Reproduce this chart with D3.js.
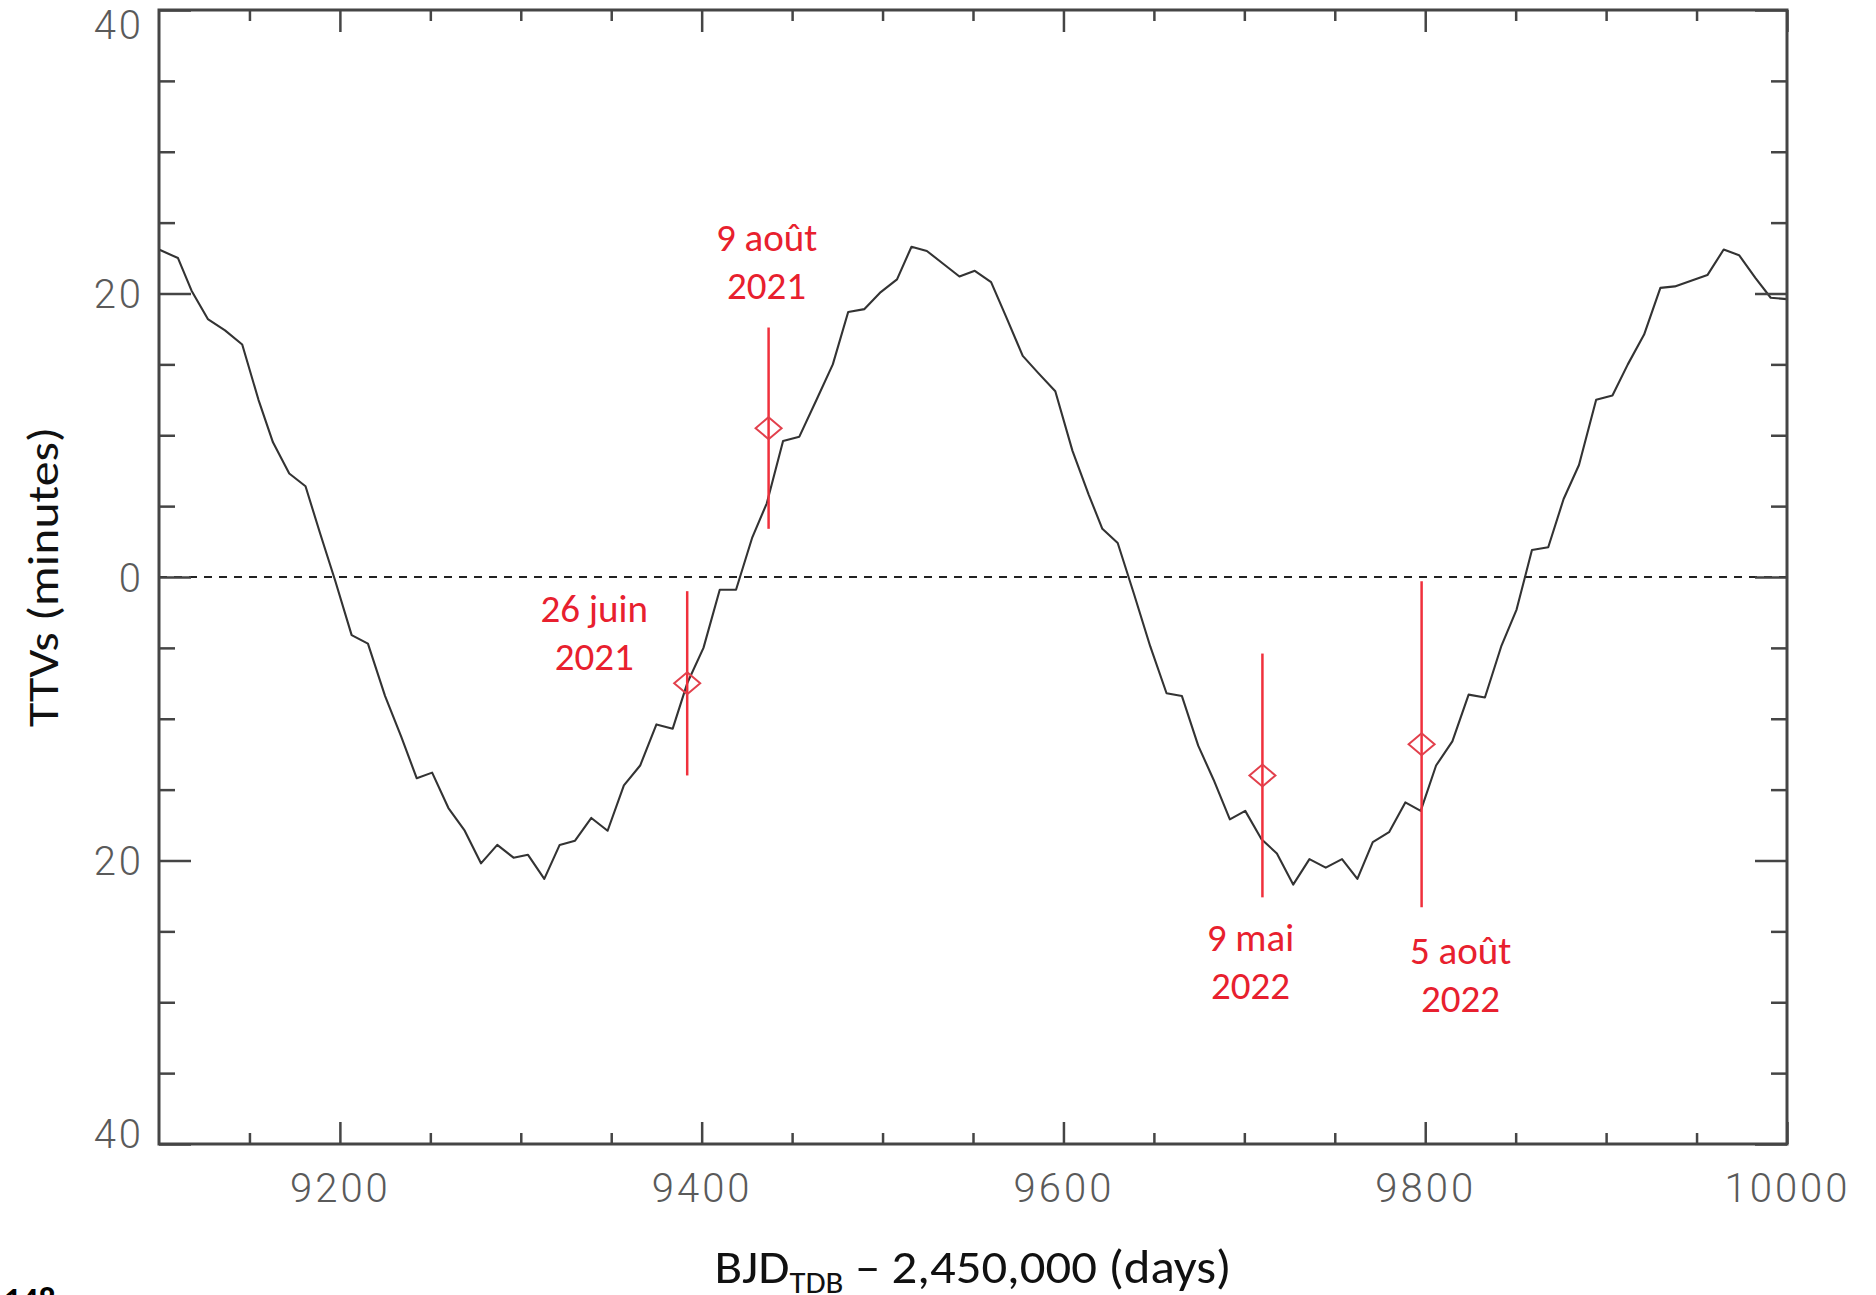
<!DOCTYPE html>
<html>
<head>
<meta charset="utf-8">
<script src="https://cdn.jsdelivr.net/npm/d3@7"></script>
<style>
  body { margin: 0; background: #fff; }
  svg { display: block; }
</style>
</head>
<body>
<svg id="chart"></svg>
<script>

// model TTV curve (days = BJD - 2450000, minutes)
const modelDays = [
  9100, 9110.5, 9118, 9127, 9136.5, 9146, 9155, 9163, 9172, 9181,
  9189, 9197.5, 9206.5, 9215.5, 9225, 9234, 9242.5, 9251, 9260, 9269,
  9278, 9287, 9296, 9304, 9313, 9321.5, 9330, 9339, 9348, 9357,
  9366, 9375, 9384, 9392, 9401, 9410, 9419, 9428, 9436, 9445,
  9454, 9463.5, 9472.5, 9481, 9490, 9499, 9508, 9516, 9524.5, 9533.5,
  9542.5, 9551, 9560, 9568.5, 9577.5, 9586, 9595.5, 9605, 9614, 9621.5,
  9630, 9639, 9648, 9657, 9665.5, 9674.5, 9683, 9692, 9700.5, 9709.5,
  9718, 9727, 9736, 9745, 9754, 9762.5, 9771, 9780, 9789, 9797.5,
  9806, 9815, 9824, 9833, 9842, 9850.5, 9859, 9868, 9876.5, 9885,
  9894.5, 9903.5, 9912, 9921, 9930, 9938, 9947, 9956, 9965, 9973.5,
  9982.5, 9991, 10000
]
const modelTTV = [
  23.1, 22.5, 20.2, 18.2, 17.4, 16.4, 12.5, 9.5, 7.3, 6.4,
  3.1, -0.3, -4.1, -4.7, -8.4, -11.3, -14.2, -13.8, -16.3, -17.9,
  -20.2, -18.9, -19.8, -19.6, -21.3, -18.9, -18.6, -17.0, -17.9, -14.7,
  -13.3, -10.4, -10.7, -7.5, -5.0, -0.9, -0.9, 2.8, 5.2, 9.6,
  9.9, 12.5, 15.0, 18.7, 18.9, 20.1, 21.0, 23.3, 23.0, 22.1,
  21.2, 21.6, 20.8, 18.3, 15.6, 14.4, 13.1, 8.9, 5.8, 3.4,
  2.4, -1.2, -4.9, -8.2, -8.4, -11.9, -14.3, -17.1, -16.5, -18.5,
  -19.5, -21.7, -19.9, -20.5, -19.9, -21.3, -18.7, -18.0, -15.9, -16.5,
  -13.3, -11.6, -8.3, -8.5, -4.9, -2.3, 1.9, 2.1, 5.5, 7.9,
  12.5, 12.8, 15.0, 17.1, 20.4, 20.5, 20.9, 21.3, 23.1, 22.7,
  21.1, 19.7, 19.6
]

// observed transits
const obsDates = [["26 juin", "2021"], ["9 août", "2021"], ["9 mai", "2022"], ["5 août", "2022"]]
const obsDays = [9392, 9437, 9710, 9798]
const obsTTV = [-7.5, 10.5, -14.0, -11.8]
const obsErr = [6.5, 7.1, 8.6, 11.5]

const xMajorTicks = [9200, 9400, 9600, 9800, 10000]
const yMajorTicks = [-40, -20, 0, 20, 40]

const width = 1876
const height = 1295
const plotLeft = 159, plotRight = 1787, plotTop = 10, plotBottom = 1144

const red = "#e8202e"
const frameColor = "#454545"

// where each date label sits relative to its diamond
const labelOffsets = [[-93, -61], [-2, -177], [-12, 176], [39, 220]]

const svg = d3.select('#chart')
    .attr('width', width)
    .attr('height', height)

const x = d3.scaleLinear().domain([9100, 10000]).range([plotLeft, plotRight])
const y = d3.scaleLinear().domain([-40, 40]).range([plotBottom, plotTop])

// zero line
svg.append('line')
    .attr('x1', x(9100))
    .attr('x2', x(10000))
    .attr('y1', y(0))
    .attr('y2', y(0))
    .attr('stroke', '#222')
    .attr('stroke-width', 2)
    .attr('stroke-dasharray', '8,7')

// model curve
const model = modelDays.map((d, i) => [d, modelTTV[i]])
svg.append('path')
    .datum(model)
    .attr('fill', 'none')
    .attr('stroke', '#333')
    .attr('stroke-width', 2.1)
    .attr('stroke-linejoin', 'round')
    .attr('d', d3.line().x(d => x(d[0])).y(d => y(d[1])))

// observations
const obs = obsDays.map((d, i) => ({day: d, ttv: obsTTV[i], err: obsErr[i], lines: obsDates[i], off: labelOffsets[i]}))

const obsG = svg.append('g')

obsG.selectAll('line')
    .data(obs)
    .enter().append('line')
    .attr('x1', d => x(d.day))
    .attr('x2', d => x(d.day))
    .attr('y1', d => y(d.ttv + d.err))
    .attr('y2', d => y(d.ttv - d.err))
    .attr('stroke', '#f0303c')
    .attr('stroke-width', 2.5)

obsG.selectAll('path')
    .data(obs)
    .enter().append('path')
    .attr('transform', d => `translate(${x(d.day)},${y(d.ttv)})`)
    .attr('d', 'M0,-11L13,0L0,11L-13,0Z')
    .attr('fill', 'none')
    .attr('stroke', '#e2404c')
    .attr('stroke-width', 2)

const labels = obsG.selectAll('text')
    .data(obs)
    .enter().append('text')
    .attr('text-anchor', 'middle')
    .attr('font-family', 'Calibri, Carlito, Lato, sans-serif')
    .attr('font-size', 39)
    .attr('fill', red)

labels.selectAll('tspan')
    .data(d => d.lines.map((t, k) => ({t: t, k: k, d: d})))
    .enter().append('tspan')
    .attr('x', e => x(e.d.day) + e.d.off[0])
    .attr('y', e => y(e.d.ttv) + e.d.off[1] + e.k * 48)
    .text(e => e.t)

// axes, ticks pointing inward
function styleAxis(g){
    g.select('.domain').remove()
    g.selectAll('.tick line').attr('stroke', frameColor).attr('stroke-width', 2.5)
    g.selectAll('text')
        .attr('font-family', 'Roboto, "DejaVu Sans", sans-serif')
        .attr('font-weight', 300)
        .attr('font-size', 40)
        .attr('letter-spacing', 3)
        .attr('fill', '#5a5a5a')
}

const xMinor = d3.range(9150, 10000, 50).filter(v => xMajorTicks.indexOf(v) < 0)
const yMinor = d3.range(-35, 40, 5).filter(v => yMajorTicks.indexOf(v) < 0)

// bottom
svg.append('g')
    .attr('transform', `translate(0,${plotBottom})`)
    .call(d3.axisBottom(x).tickValues(xMinor).tickSize(-11).tickSizeOuter(0).tickFormat(''))
    .call(styleAxis)
svg.append('g')
    .attr('transform', `translate(0,${plotBottom})`)
    .call(d3.axisBottom(x).tickValues(xMajorTicks).tickSize(-22).tickSizeOuter(0).tickPadding(30).tickFormat(d3.format('d')))
    .call(styleAxis)
    .call(g => g.selectAll('text').attr('y', 58).attr('dy', 0))

// top
svg.append('g')
    .attr('transform', `translate(0,${plotTop})`)
    .call(d3.axisTop(x).tickValues(xMinor).tickSize(-11).tickSizeOuter(0).tickFormat(''))
    .call(styleAxis)
svg.append('g')
    .attr('transform', `translate(0,${plotTop})`)
    .call(d3.axisTop(x).tickValues(xMajorTicks).tickSize(-22).tickSizeOuter(0).tickFormat(''))
    .call(styleAxis)

// left
svg.append('g')
    .attr('transform', `translate(${plotLeft},0)`)
    .call(d3.axisLeft(y).tickValues(yMinor).tickSize(-16).tickSizeOuter(0).tickFormat(''))
    .call(styleAxis)
svg.append('g')
    .attr('transform', `translate(${plotLeft},0)`)
    .call(d3.axisLeft(y).tickValues(yMajorTicks).tickSize(-32).tickSizeOuter(0).tickFormat(d => String(Math.abs(d))))
    .call(styleAxis)
    .call(g => g.selectAll('text')
        .attr('x', -15)
        .attr('dy', d => d === 40 ? '0.7em' : (d === -40 ? '0.08em' : '0.36em')))

// right
svg.append('g')
    .attr('transform', `translate(${plotRight},0)`)
    .call(d3.axisRight(y).tickValues(yMinor).tickSize(-16).tickSizeOuter(0).tickFormat(''))
    .call(styleAxis)
svg.append('g')
    .attr('transform', `translate(${plotRight},0)`)
    .call(d3.axisRight(y).tickValues(yMajorTicks).tickSize(-32).tickSizeOuter(0).tickFormat(''))
    .call(styleAxis)

// frame
svg.append('rect')
    .attr('x', plotLeft)
    .attr('y', plotTop)
    .attr('width', plotRight - plotLeft)
    .attr('height', plotBottom - plotTop)
    .attr('fill', 'none')
    .attr('stroke', frameColor)
    .attr('stroke-width', 3)

// axis titles
const xTitle = svg.append('text')
    .attr('x', 973)
    .attr('y', 1283)
    .attr('text-anchor', 'middle')
    .attr('font-family', 'Calibri, Carlito, Lato, sans-serif')
    .attr('font-size', 48)
    .attr('fill', '#111')
    .attr('textLength', 517)
    .attr('lengthAdjust', 'spacingAndGlyphs')
xTitle.append('tspan').text('BJD')
xTitle.append('tspan').attr('font-size', 31).attr('dy', 10).text('TDB')
xTitle.append('tspan').attr('dy', -10).text(' \u2013 2,450,000 (days)')

svg.append('text')
    .attr('transform', 'translate(58,577) rotate(-90)')
    .attr('text-anchor', 'middle')
    .attr('font-family', 'Calibri, Carlito, Lato, sans-serif')
    .attr('font-size', 44)
    .attr('fill', '#111')
    .attr('textLength', 300)
    .attr('lengthAdjust', 'spacingAndGlyphs')
    .text('TTVs (minutes)')

// page number, cut by the bottom edge
svg.append('text')
    .attr('x', 4)
    .attr('y', 1311)
    .attr('font-family', 'Calibri, Carlito, Lato, sans-serif')
    .attr('font-weight', 'bold')
    .attr('font-size', 34)
    .attr('fill', '#000')
    .text('148')

</script>
</body>
</html>
